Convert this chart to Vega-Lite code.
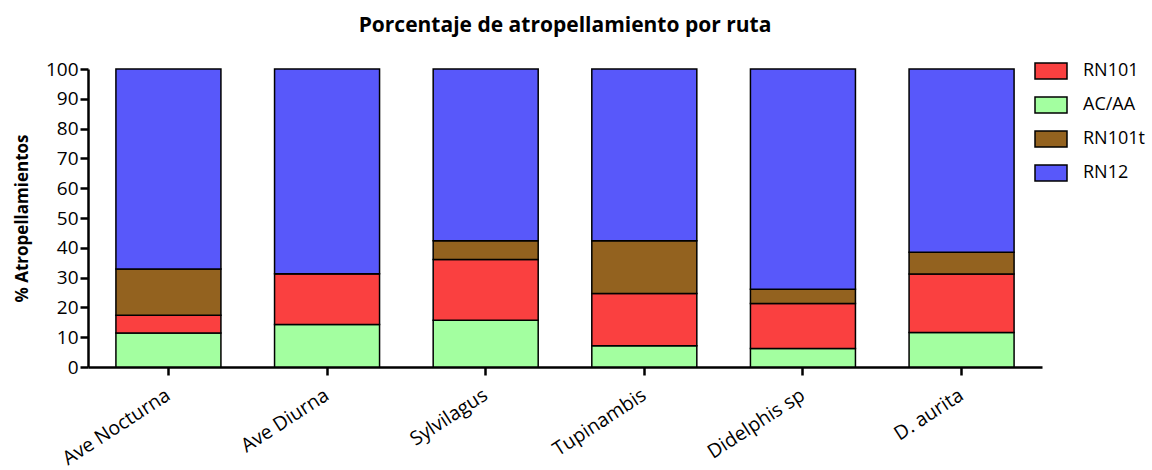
{
  "$schema": "https://vega.github.io/schema/vega-lite/v6.json",
  "autosize": "none",
  "width": 954,
  "height": 298,
  "padding": {"left": 88, "top": 69, "right": 110, "bottom": 103},
  "background": "white",
  "title": {
    "text": "Porcentaje de atropellamiento por ruta",
    "font": "Open Sans",
    "fontSize": 21,
    "fontWeight": "bold",
    "color": "black",
    "anchor": "middle",
    "frame": "group",
    "baseline": "alphabetic",
    "offset": 1
  },
  "data": {
    "values": [
      {"especie": "Ave Nocturna", "ruta": "AC/AA", "orden": 1, "pct": 11.4},
      {"especie": "Ave Nocturna", "ruta": "RN101", "orden": 2, "pct": 6.0},
      {"especie": "Ave Nocturna", "ruta": "RN101t", "orden": 3, "pct": 15.5},
      {"especie": "Ave Nocturna", "ruta": "RN12", "orden": 4, "pct": 67.1},
      {"especie": "Ave Diurna", "ruta": "AC/AA", "orden": 1, "pct": 14.3},
      {"especie": "Ave Diurna", "ruta": "RN101", "orden": 2, "pct": 17.0},
      {"especie": "Ave Diurna", "ruta": "RN101t", "orden": 3, "pct": 0},
      {"especie": "Ave Diurna", "ruta": "RN12", "orden": 4, "pct": 68.7},
      {"especie": "Sylvilagus", "ruta": "AC/AA", "orden": 1, "pct": 15.7},
      {"especie": "Sylvilagus", "ruta": "RN101", "orden": 2, "pct": 20.4},
      {"especie": "Sylvilagus", "ruta": "RN101t", "orden": 3, "pct": 6.3},
      {"especie": "Sylvilagus", "ruta": "RN12", "orden": 4, "pct": 57.6},
      {"especie": "Tupinambis", "ruta": "AC/AA", "orden": 1, "pct": 7.1},
      {"especie": "Tupinambis", "ruta": "RN101", "orden": 2, "pct": 17.6},
      {"especie": "Tupinambis", "ruta": "RN101t", "orden": 3, "pct": 17.7},
      {"especie": "Tupinambis", "ruta": "RN12", "orden": 4, "pct": 57.6},
      {"especie": "Didelphis sp", "ruta": "AC/AA", "orden": 1, "pct": 6.2},
      {"especie": "Didelphis sp", "ruta": "RN101", "orden": 2, "pct": 15.1},
      {"especie": "Didelphis sp", "ruta": "RN101t", "orden": 3, "pct": 4.8},
      {"especie": "Didelphis sp", "ruta": "RN12", "orden": 4, "pct": 73.9},
      {"especie": "D. aurita", "ruta": "AC/AA", "orden": 1, "pct": 11.6},
      {"especie": "D. aurita", "ruta": "RN101", "orden": 2, "pct": 19.6},
      {"especie": "D. aurita", "ruta": "RN101t", "orden": 3, "pct": 7.3},
      {"especie": "D. aurita", "ruta": "RN12", "orden": 4, "pct": 61.5}
    ]
  },
  "mark": {"type": "bar", "stroke": "black", "strokeWidth": 1.5, "opacity": 1},
  "encoding": {
    "x": {
      "field": "especie",
      "type": "nominal",
      "sort": null,
      "scale": {"paddingInner": 0.338, "paddingOuter": 0.176},
      "axis": {
        "title": null,
        "domainColor": "black",
        "domainWidth": 2.5,
        "tickColor": "black",
        "tickWidth": 2.5,
        "tickSize": 8,
        "labelAngle": -33,
        "labelAlign": "right",
        "labelBaseline": "middle",
        "labelFont": "Open Sans",
        "labelFontSize": 19.5,
        "labelColor": "black",
        "labelPadding": 18
      }
    },
    "y": {
      "field": "pct",
      "type": "quantitative",
      "stack": "zero",
      "scale": {"domain": [0, 100], "nice": false},
      "axis": {
        "title": "% Atropellamientos",
        "titleFont": "Open Sans",
        "titleFontSize": 17,
        "titleFontWeight": "bold",
        "titleColor": "black",
        "titlePadding": 14,
        "values": [0, 10, 20, 30, 40, 50, 60, 70, 80, 90, 100],
        "grid": false,
        "domainColor": "black",
        "domainWidth": 2.5,
        "tickColor": "black",
        "tickWidth": 2.5,
        "tickSize": 8,
        "labelFont": "Open Sans",
        "labelFontSize": 19,
        "labelColor": "black",
        "labelPadding": 2
      }
    },
    "color": {
      "field": "ruta",
      "type": "nominal",
      "scale": {
        "domain": ["RN101", "AC/AA", "RN101t", "RN12"],
        "range": ["#FA4040", "#A3FFA0", "#93621F", "#5858FA"]
      },
      "legend": {
        "title": null,
        "orient": "none",
        "legendX": 946,
        "legendY": -15,
        "symbolType": "M-1,-0.5H1V0.5H-1Z",
        "symbolSize": 1024,
        "symbolStrokeColor": "black",
        "symbolStrokeWidth": 1.5,
        "symbolOpacity": 1,
        "rowPadding": 6,
        "labelFont": "Open Sans",
        "labelFontSize": 18,
        "labelColor": "black",
        "labelOffset": 15
      }
    },
    "order": {"field": "orden", "type": "quantitative"}
  },
  "config": {"view": {"stroke": null}, "axis": {"labelOverlap": false}}
}
